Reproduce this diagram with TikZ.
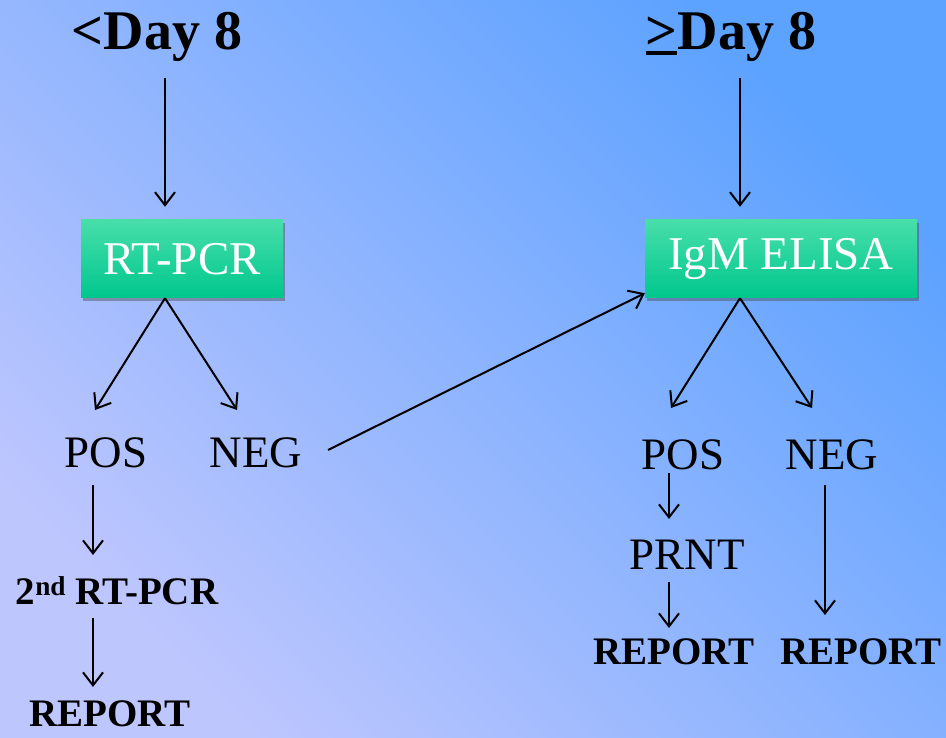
\documentclass[tikz,border=0pt]{standalone}
\usepackage{fontspec}
\setmainfont{Liberation Serif}
\usetikzlibrary{arrows.meta,calc,shadows}
\definecolor{bgLow}{HTML}{BEC6FE}
\definecolor{bgHigh}{HTML}{5CA2FF}
\definecolor{boxTop}{HTML}{48DEAA}
\definecolor{boxBot}{HTML}{00C78D}
% a ">" with a thick bar below it
\newcommand{\geqbar}{\makebox[0pt][l]{\rule[-5pt]{0.55em}{3.5pt}}>}

\begin{document}
\begin{tikzpicture}[x=1pt,y=1pt,
  lbl/.style={inner sep=0pt, anchor=base, font=\fontsize{45}{50}\selectfont},
  head/.style={inner sep=0pt, anchor=base, font=\fontsize{56}{60}\selectfont\bfseries},
  rep/.style={inner sep=0pt, anchor=base, font=\fontsize{39}{44}\selectfont\bfseries},
  testbox/.style={rectangle, minimum height=78pt, inner sep=0pt,
    top color=boxTop, bottom color=boxBot, text=white,
    font=\fontsize{47}{50}\selectfont,
    drop shadow={shadow xshift=2pt, shadow yshift=-3pt, opacity=0.45, fill=black!70}},
  arr/.style={line width=2pt, -{Straight Barb[length=13pt,width=20pt]}}
]
% background
\shade[bottom color=bgLow, top color=bgHigh, shading angle=-45] (0,0) rectangle (946,737);
\useasboundingbox (0,0) rectangle (946,737);

% headings
\node[head] (day1) at (157,687) {<Day 8};
\node[head] (day2) at (731,687) {\geqbar Day 8};

% test boxes
\node[testbox, minimum width=202pt] (rtpcr) at (182,478) {RT-PCR};
\node[testbox, minimum width=272pt] (igm) at (781,478) {IgM ELISA};

% results
\node[lbl] (pos1) at (106,269) {POS};
\node[lbl] (neg1) at (256,269) {NEG};
\node[lbl] (pos2) at (683,267) {POS};
\node[lbl] (neg2) at (832,267) {NEG};
\node[lbl] (prnt) at (687,167) {PRNT};
\node[rep] (sec) at (117,132) {2\textsuperscript{nd} RT-PCR};
\node[rep] (rep1) at (110,10) {REPORT};
\node[rep] (rep2) at (674,72) {REPORT};
\node[rep] (rep3) at (861,72) {REPORT};

% connectors
\draw[arr] ($(day1.base)+(8,-28)$) -- ($(rtpcr.north)+(-17,13)$);
\draw[arr] ($(day2.base)+(9,-28)$) -- ($(igm.north)+(-41,13)$);
\draw[arr] ($(rtpcr.south)+(-17,0)$) -- ($(pos1.base)+(-11,58)$);
\draw[arr] ($(rtpcr.south)+(-17,0)$) -- ($(neg1.base)+(-19,58)$);
\draw[arr] ($(igm.south)+(-41,0)$) -- ($(pos2.base)+(-12,62)$);
\draw[arr] ($(igm.south)+(-41,0)$) -- ($(neg2.base)+(-20,62)$);
\draw[arr] ($(neg1.base)+(72,18)$) -- ($(igm.south west)+(0,5)$);
\draw[arr] ($(pos1.base)+(-13,-17)$) -- ($(sec.base)+(-24,50)$);
\draw[arr] ($(sec.base)+(-24,-13)$) -- ($(rep1.base)+(-17,40)$);
\draw[arr] ($(pos2.base)+(-14,-3)$) -- ($(prnt.base)+(-18,51)$);
\draw[arr] ($(prnt.base)+(-18,-12)$) -- ($(rep2.base)+(-5,37)$);
\draw[arr] ($(neg2.base)+(-7,-15)$) -- ($(rep3.base)+(-36,50)$);
\end{tikzpicture}
\end{document}
